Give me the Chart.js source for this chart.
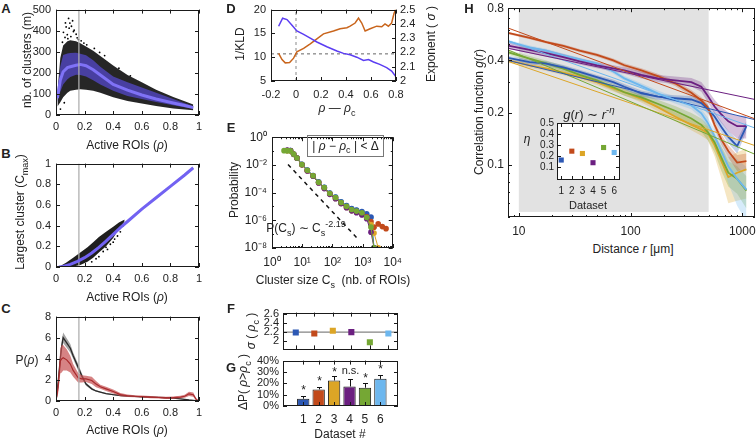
<!DOCTYPE html>
<html>
<head>
<meta charset="utf-8">
<script src="https://cdn.jsdelivr.net/npm/chart.js@4.4.0/dist/chart.umd.min.js"></script>
<style>
  html, body { margin: 0; padding: 0; width: 756px; height: 440px; overflow: hidden; background: #fff; }
  body { position: relative; font-family: 'Liberation Sans', Arial, sans-serif; color: #222; }
  canvas { position: absolute; }
  .lbl { position: absolute; white-space: nowrap; line-height: 1; font-size: 12px; }
  .lbl sub, .lbl sup { font-size: 75%; }
  .ebox { position: absolute; border: 1px solid #777; box-sizing: border-box; text-align: center; font-size: 12px; line-height: 20px; white-space: pre; }
  .ebox sub { font-size: 75%; line-height: 0; }
</style>
</head>
<body>
<script>
// ---- shared
const datasetNo = [1, 2, 3, 4, 5, 6];
const dsColors = ['#2c58b4', '#c24a1b', '#dca526', '#6b1f80', '#75a734', '#6db7ee'];
const rhoCrit = 0.16;

// ---- A: nb. of clusters vs active ROIs
const rhoA     = [0.01,0.03,0.05,0.08,0.1,0.14,0.17,0.21,0.26,0.31,0.4,0.5,0.6,0.7,0.82,0.9,0.96];
const cloudHiA = [110,270,330,350,355,350,340,325,305,280,235,190,155,120,85,65,50];
const cloudLoA = [40,60,84,105,115,120,122,120,115,105,84,66,55,43,31,26,23];
const bandHiA  = [100,230,285,292,294,295,290,283,260,229,183,155,130,105,76,56,41];
const bandLoA  = [60,110,145,170,180,191,190,183,165,145,115,90,76,62,46,37,31];
const meanA    = [80,165,205,225,229,236,240,234,215,190,145,118,95,76,57,45,35];
const strayXA  = [0.045,0.052,0.063,0.071,0.079,0.088,0.097,0.104,0.116,0.127,0.148,0.176,0.215,0.34,0.44,0.52,0.031,0.058,0.083,0.122,0.195,0.268,0.305,0.092,0.141,0.066,0.108,0.157];
const strayYA  = [345,392,368,418,381,458,436,372,447,402,366,352,333,282,222,186,28,58,362,396,341,316,297,412,383,437,421,358];

// ---- B: largest cluster
const rhoB      = [0.02,0.05,0.1,0.15,0.2,0.25,0.3,0.35,0.4,0.45,0.5,0.6,0.7,0.8,0.9,0.96];
const cmaxB     = [0,0.005,0.025,0.055,0.09,0.135,0.19,0.25,0.315,0.38,0.44,0.56,0.67,0.78,0.89,0.96];
const rhoCloudB = [0.03,0.07,0.12,0.17,0.22,0.26,0.3,0.35,0.4,0.44,0.48];
const cloudHiB  = [0.01,0.04,0.09,0.14,0.19,0.24,0.29,0.34,0.39,0.43,0.46];
const cloudLoB  = [0,0,0.005,0.02,0.05,0.09,0.14,0.2,0.28,0.37,0.44];
const strayXB   = [0.3,0.33,0.35,0.36,0.38,0.4,0.41,0.43,0.45,0.47,0.25,0.28];
const strayYB   = [0.1,0.15,0.19,0.17,0.22,0.24,0.27,0.3,0.34,0.4,0.05,0.08];

// ---- C: P(rho)
const rhoC   = [0,0.015,0.03,0.04,0.05,0.075,0.1,0.12,0.155,0.18,0.21,0.25,0.28,0.31,0.35,0.4,0.45,0.5,0.55,0.6,0.66,0.72,0.77,0.82,0.87,0.9,0.93,0.96,0.98,1];
const pBlack = [0,1.8,4.0,5.2,6.0,5.5,5.0,4.3,3.2,2.4,1.6,1.15,0.95,0.84,0.7,0.6,0.52,0.47,0.43,0.4,0.37,0.34,0.31,0.27,0.2,0.15,0.1,0.06,0.03,0];
const eBlack = [0,0.3,0.4,0.5,0.5,0.45,0.4,0.3,0.3,0.25,0.15,0.1,0.08,0.06,0.05,0.05,0.05,0.05,0.04,0.04,0.04,0.04,0.04,0.04,0.03,0.03,0.03,0.02,0.02,0];
const pRed   = [0,1.3,3.8,4.0,4.1,3.9,3.5,2.9,2.2,2.1,2.1,1.95,1.6,1.35,1.15,0.9,0.6,0.5,0.45,0.42,0.37,0.33,0.3,0.32,0.37,0.45,0.68,0.6,0.15,0];
const eRed   = [0,0.6,1.2,1.3,1.2,1.0,0.8,0.6,0.45,0.35,0.3,0.35,0.3,0.2,0.2,0.2,0.15,0.12,0.1,0.1,0.1,0.1,0.1,0.1,0.12,0.15,0.2,0.2,0.1,0];

// ---- D: 1/KLD and exponent vs rho - rho_c
const dRho   = [-0.139,-0.107,-0.072,-0.032,0.007,0.061,0.114,0.167,0.247,0.327,0.38,0.433,0.486,0.54,0.58,0.62,0.67,0.725,0.765,0.8];
const invKLD = [16.5,18.2,17.9,16.7,15.5,14.8,14.0,13.2,12.2,11.3,10.8,10.5,10.0,9.3,9.5,9.0,8.5,7.8,7.1,5.9];
const oRho   = [-0.139,-0.112,-0.086,-0.051,-0.019,0.007,0.061,0.114,0.167,0.22,0.3,0.353,0.407,0.433,0.473,0.5,0.526,0.553,0.593,0.646,0.686,0.712,0.739,0.765,0.784,0.797];
const expSig = [2.194,2.15,2.127,2.13,2.16,2.205,2.228,2.26,2.295,2.33,2.35,2.366,2.373,2.384,2.406,2.44,2.406,2.35,2.366,2.384,2.38,2.4,2.384,2.406,2.473,2.5];
const sigmaRef = 2.19;

// ---- E: cluster size distributions
const sizeE = [2.5,3.2,4.1,5.2,6.7,9.8,14.8,23,35,54,82,127,194,294,435,630,950,1370,1900,2400,3300,4500,6000];
const probE = [
  [null,0.11,0.108,0.062,0.033,0.0112,0.0043,0.0017,5.9e-4,2.4e-4,9.3e-5,4.8e-5,2.2e-5,1.15e-5,7.0e-6,5.4e-6,4.3e-6,3.0e-6,1.7e-6,1.05e-8,null,null,null],
  [null,0.11,0.106,0.06,0.031,0.0104,0.0039,0.0016,5.4e-4,2.2e-4,8.4e-5,4.2e-5,1.85e-5,9.5e-6,5.6e-6,4.2e-6,3.0e-6,1.8e-6,8e-7,3.2e-7,5.5e-7,3.5e-7,2.5e-7],
  [null,0.105,0.104,0.058,0.03,0.0102,0.0038,0.00155,5.2e-4,2.05e-4,7.8e-5,3.8e-5,1.65e-5,8.5e-6,5.0e-6,3.8e-6,2.7e-6,1.5e-6,5e-7,1.2e-7,1.05e-8,null,null],
  [null,0.12,0.11,0.058,0.03,0.0101,0.0037,0.0015,5.0e-4,1.95e-4,7.5e-5,3.6e-5,1.6e-5,8.2e-6,4.8e-6,3.5e-6,2.4e-6,1.3e-6,1.4e-7,1.05e-8,null,null,null],
  [0.107,0.107,0.105,0.06,0.0316,0.0107,0.0041,0.00166,5.6e-4,2.3e-4,8.7e-5,4.4e-5,1.95e-5,1.02e-5,6.0e-6,4.6e-6,3.5e-6,1.6e-6,3.2e-7,1.05e-8,null,null,null],
  [null,0.108,0.107,0.061,0.032,0.011,0.0042,0.0017,5.8e-4,2.4e-4,9.2e-5,4.7e-5,2.15e-5,1.12e-5,6.8e-6,5.3e-6,4.0e-6,2.6e-6,1.5e-6,1.05e-8,null,null,null]
];
const fitXE = [3.4, 630];
const fitYE = [0.0107, 5.8e-8];
const decadesE = [1, 10, 100, 1000, 10000];

// ---- F: sigma at rho_c ; G: delta P
const sigmaF = [2.18, 2.16, 2.22, 2.19, 1.96, 2.16];
const dP     = [0.064, 0.146, 0.225, 0.172, 0.161, 0.239];
const dPerr  = [0.085, 0.166, 0.26, 0.24, 0.201, 0.272];
const sigY   = [0.16, 0.24, 0.318, 0.312, 0.269, 0.347];
const sigTxt = ['*', '*', '*', 'n.s.', '*', '*'];

// ---- H: correlation function g(r)
const hX = [8,12.5,17.6,25,35,50,70,88,125,175,250,350,430,490,565,650,750,900,1090];
const gH = [
  [0.414,0.391,0.383,0.365,0.343,0.32,0.30,0.282,0.258,0.247,0.242,0.238,0.227,0.21,0.19,0.165,0.145,0.128,0.167],
  [0.576,0.54,0.51,0.485,0.456,0.43,0.40,0.375,0.35,0.325,0.295,0.26,0.235,0.215,0.17,0.14,0.12,0.103,0.105],
  [0.40,0.375,0.36,0.34,0.321,0.30,0.276,0.262,0.24,0.215,0.19,0.17,0.16,0.153,0.13,0.105,0.085,0.09,0.094],
  [0.487,0.46,0.44,0.418,0.395,0.375,0.36,0.35,0.33,0.315,0.307,0.30,0.282,0.25,0.217,0.195,0.178,0.167,0.167],
  [0.446,0.409,0.385,0.359,0.33,0.307,0.28,0.262,0.245,0.225,0.205,0.185,0.17,0.155,0.135,0.11,0.09,0.083,0.071],
  [0.515,0.476,0.455,0.427,0.405,0.383,0.345,0.315,0.285,0.258,0.236,0.22,0.198,0.175,0.146,0.12,0.098,0.083,0.072]
];
const gErrH = [
  [0.012,0.012,0.012,0.011,0.01,0.01,0.01,0.01,0.01,0.01,0.01,0.011,0.012,0.012,0.012,0.012,0.012,0.012,0.012],
  [0.01,0.01,0.01,0.01,0.01,0.01,0.01,0.01,0.01,0.01,0.01,0.01,0.01,0.01,0.01,0.01,0.01,0.011,0.011],
  [0.012,0.012,0.012,0.012,0.011,0.011,0.011,0.011,0.011,0.011,0.011,0.012,0.013,0.014,0.018,0.022,0.025,0.028,0.03],
  [0.02,0.02,0.02,0.018,0.016,0.015,0.015,0.015,0.015,0.015,0.016,0.017,0.018,0.02,0.02,0.02,0.022,0.025,0.025],
  [0.015,0.015,0.015,0.014,0.013,0.012,0.012,0.012,0.012,0.012,0.013,0.014,0.015,0.016,0.017,0.018,0.015,0.015,0.015],
  [0.012,0.012,0.012,0.011,0.01,0.01,0.01,0.01,0.01,0.01,0.01,0.011,0.012,0.013,0.015,0.017,0.02,0.025,0.025]
];
const fitXH = [8, 1300];
const fitYH = [[0.40,0.182],[0.615,0.184],[0.395,0.129],[0.47,0.238],[0.46,0.115],[0.52,0.163]];
const fitRange = [10, 500];
const etaH = [0.166, 0.246, 0.225, 0.142, 0.279, 0.234];

// ---------------------------------------------------------------
Chart.defaults.font.family = "'Liberation Sans', Arial, sans-serif";
Chart.defaults.font.size = 11;
Chart.defaults.color = '#222';
Chart.defaults.plugins.legend.display = false;
Chart.defaults.plugins.tooltip.enabled = false;
Chart.defaults.animation = false;
Chart.defaults.elements.point.radius = 0;
Chart.defaults.elements.line.tension = 0;

// box around the plot + inward ticks, matlab style
Chart.register({
  id: 'frame',
  afterDatasetsDraw(chart) {
    const {ctx, chartArea: a, scales} = chart;
    const ys = Object.values(scales).filter(s => !s.isHorizontal());
    ctx.save();
    ctx.strokeStyle = '#1a1a1a';
    ctx.lineWidth = 1;
    for (const s of Object.values(scales)) {
      s.ticks.forEach((t, i) => {
        const p = Math.round(s.getPixelForTick(i)) + 0.5;
        const len = t.label === '' ? 2 : 4;
        ctx.beginPath();
        if (s.isHorizontal()) {
          ctx.moveTo(p, a.bottom); ctx.lineTo(p, a.bottom - len);
          ctx.moveTo(p, a.top); ctx.lineTo(p, a.top + len);
        } else {
          const left = s.position !== 'right', both = ys.length === 1;
          if (left || both) { ctx.moveTo(a.left, p); ctx.lineTo(a.left + len, p); }
          if (!left || both) { ctx.moveTo(a.right, p); ctx.lineTo(a.right - len, p); }
        }
        ctx.stroke();
      });
    }
    ctx.strokeRect(Math.round(a.left) + 0.5, Math.round(a.top) + 0.5, Math.round(a.width) - 1, Math.round(a.height) - 1);
    ctx.restore();
  }
});

const xy = (xs, ys) => xs.map((x, i) => ({x, y: ys[i]}));
const rgba = (hex, a) => {
  const n = parseInt(hex.slice(1), 16);
  return `rgba(${n >> 16},${(n >> 8) & 255},${n & 255},${a})`;
};
const line = (xs, ys, color, width, extra) =>
  Object.assign({data: xy(xs, ys), borderColor: color, borderWidth: width, fill: false}, extra);
const dots = (xs, ys, color, r) =>
  ({data: xy(xs, ys), showLine: false, pointRadius: r, pointBackgroundColor: color, pointBorderWidth: 0});
function band(xs, hi, lo, color) {
  return [
    {data: xy(xs, hi), borderWidth: 0, borderColor: 'transparent', fill: false},
    {data: xy(xs, lo), borderWidth: 0, borderColor: 'transparent', fill: '-1', backgroundColor: color}
  ];
}
// first in the list is drawn at the back
function layered(list) { list.forEach((d, i) => d.order = list.length - i); return list; }

function ax(type, min, max, vals, fmt, o = {}) {
  return {
    type, min, max,
    position: o.position,
    grid: {display: false, drawTicks: false},
    border: {display: false},
    afterBuildTicks: s => { s.ticks = vals.map(v => ({value: v})); },
    ticks: {autoSkip: false, maxRotation: 0, minRotation: 0, padding: o.pad ?? 5,
            display: !o.hide, font: {size: o.size || 11}, callback: fmt}
  };
}

function panel(area, pad, cfg) {
  const [x, y, w, h] = area, [pl, pt, pr, pb] = pad;
  const cv = document.createElement('canvas');
  cv.width = w + pl + pr;
  cv.height = h + pt + pb;
  cv.style.left = (x - pl) + 'px';
  cv.style.top = (y - pt) + 'px';
  document.body.appendChild(cv);
  const scales = cfg.options.scales;
  const hasRight = Object.values(scales).some(s => s.position === 'right');
  for (const s of Object.values(scales)) {
    s.afterFit = sc => {
      if (sc.isHorizontal()) sc.height = pb;
      else sc.width = s.position === 'right' ? pr : pl;
    };
  }
  cfg.options.responsive = false;
  cfg.options.maintainAspectRatio = false;
  cfg.options.layout = {padding: {left: 0, top: pt, right: hasRight ? 0 : pr, bottom: 0}};
  return new Chart(cv, cfg);
}

function label(html, x, y, o = {}) {
  const d = document.createElement('div');
  d.className = 'lbl';
  d.innerHTML = html;
  d.style.left = x + 'px';
  d.style.top = y + 'px';
  if (o.size) d.style.fontSize = o.size + 'px';
  if (o.bold) d.style.fontWeight = 'bold';
  d.style.transform = 'translate(-50%,-50%)' + (o.rot ? ' rotate(-90deg)' : '');
  document.body.appendChild(d);
}

const num = v => String(v);
const tenths = [0, 0.2, 0.4, 0.6, 0.8, 1];

// ---- A
panel([56, 6, 143, 109], [40, 8, 12, 24], {
  type: 'line',
  data: {datasets: layered([
    ...band(rhoA, cloudHiA, cloudLoA, 'rgba(0,0,0,0.85)'),
    dots(strayXA, strayYA, '#000', 0.9),
    ...band(rhoA, bandHiA, bandLoA, 'rgba(82,70,196,0.78)'),
    line(rhoA, meanA, '#7f72f6', 3),
    line([rhoCrit, rhoCrit], [0, 500], 'rgba(175,175,175,0.85)', 1.5)
  ])},
  options: {scales: {
    x: ax('linear', 0, 1, tenths, num),
    y: ax('linear', 0, 500, [0, 100, 200, 300, 400, 500], num)
  }}
});

// ---- B
panel([56, 160, 143, 107], [40, 8, 12, 24], {
  type: 'line',
  data: {datasets: layered([
    ...band(rhoCloudB, cloudHiB, cloudLoB, 'rgba(0,0,0,0.88)'),
    dots(strayXB, strayYB, '#000', 0.9),
    line([rhoCrit, rhoCrit], [0, 1], 'rgba(175,175,175,0.85)', 1.5),
    line(rhoB, cmaxB, '#7262f2', 3)
  ])},
  options: {scales: {
    x: ax('linear', 0, 1, tenths, num),
    y: ax('linear', 0, 1, tenths, num)
  }}
});

// ---- C
panel([56, 313, 143, 88], [40, 8, 12, 24], {
  type: 'line',
  data: {datasets: layered([
    ...band(rhoC, pBlack.map((v, i) => v + eBlack[i]), pBlack.map((v, i) => v - eBlack[i]), 'rgba(90,90,90,0.55)'),
    line(rhoC, pBlack, '#2a2a2a', 1.3),
    ...band(rhoC, pRed.map((v, i) => v + eRed[i]), pRed.map((v, i) => v - eRed[i]), 'rgba(196,78,80,0.7)'),
    line(rhoC, pRed, '#a82a2c', 1.2),
    line([rhoCrit, rhoCrit], [0, 8], 'rgba(175,175,175,0.85)', 1.5)
  ])},
  options: {scales: {
    x: ax('linear', 0, 1, tenths, num),
    y: ax('linear', 0, 8, [0, 2, 4, 6, 8], num)
  }}
});

// ---- D
panel([271, 6, 125, 75], [40, 8, 34, 24], {
  type: 'line',
  data: {datasets: layered([
    line([0, 0], [5, 20], '#8a8a8a', 1, {borderDash: [3, 3], yAxisID: 'y'}),
    line([-0.2, 0.8], [sigmaRef, sigmaRef], '#666', 1, {borderDash: [3, 3], yAxisID: 'y2'}),
    line(oRho, expSig, '#c9651c', 1.5, {yAxisID: 'y2'}),
    line(dRho, invKLD, '#5b3df2', 1.5, {yAxisID: 'y'})
  ])},
  options: {scales: {
    x: ax('linear', -0.2, 0.8, [-0.2, 0, 0.2, 0.4, 0.6, 0.8], num, {pad: 7}),
    y: ax('linear', 5, 20, [5, 10, 15, 20], num),
    y2: ax('linear', 2, 2.5, [2, 2.1, 2.2, 2.3, 2.4, 2.5], num, {position: 'right', pad: 4})
  }}
});

// ---- E
const SUP = {'-': '⁻', '0': '⁰', '1': '¹', '2': '²', '3': '³', '4': '⁴', '5': '⁵', '6': '⁶', '7': '⁷', '8': '⁸', '9': '⁹'};
const pow10 = v => '10' + String(Math.round(Math.log10(v))).split('').map(c => SUP[c]).join('');
const minorE = [];
decadesE.slice(0, -1).forEach(d => [1, 2, 3, 4, 5, 6, 7, 8, 9].forEach(m => minorE.push(d * m)));
minorE.push(10000);
const yDecE = [1e-8, 1e-7, 1e-6, 1e-5, 1e-4, 1e-3, 1e-2, 1e-1, 1];
const yLabE = [1e-8, 1e-6, 1e-4, 1e-2, 1];
const eOrder = [5, 0, 1, 2, 3, 4];
panel([272, 133, 125, 115], [40, 8, 12, 26], {
  type: 'line',
  data: {datasets: layered([
    line(fitXE, fitYE, '#111', 1.5, {borderDash: [4, 4]}),
    ...eOrder.map(k => line(sizeE, probE[k], dsColors[k], 1,
      {pointRadius: 2.8, pointBackgroundColor: dsColors[k], pointBorderWidth: 0}))
  ])},
  options: {scales: {
    x: ax('logarithmic', 1, 10000, minorE, v => decadesE.includes(v) ? pow10(v) : '', {pad: 7, size: 12}),
    y: ax('logarithmic', 1e-8, 1, yDecE, v => yLabE.includes(v) ? pow10(v) : '', {size: 12})
  }}
});

// ---- F
panel([283, 310, 115, 42], [40, 8, 12, 8], {
  type: 'line',
  data: {datasets: layered([
    line([0.31, 6.52], [sigmaRef, sigmaRef], '#666', 1),
    {data: xy(datasetNo, sigmaF), showLine: false, pointStyle: 'rect', pointRadius: 4.3,
     pointBackgroundColor: dsColors, pointBorderWidth: 0}
  ])},
  options: {scales: {
    x: ax('linear', 0.31, 6.52, datasetNo, num, {hide: true}),
    y: ax('linear', 1.8, 2.63, [2, 2.2, 2.4, 2.6], num, {pad: 4})
  }}
});

// ---- G
const gMarks = {
  id: 'gMarks',
  afterDatasetsDraw(chart) {
    const {ctx, scales: {x, y}} = chart;
    ctx.save();
    ctx.strokeStyle = '#111';
    ctx.lineWidth = 1;
    ctx.fillStyle = '#222';
    ctx.textAlign = 'center';
    ctx.textBaseline = 'middle';
    datasetNo.forEach((n, i) => {
      const px = Math.round(x.getPixelForValue(n)) + 0.5;
      const y0 = y.getPixelForValue(dP[i]), y1 = Math.round(y.getPixelForValue(dPerr[i])) + 0.5;
      ctx.beginPath();
      ctx.moveTo(px, y0); ctx.lineTo(px, y1);
      ctx.moveTo(px - 2.5, y1); ctx.lineTo(px + 2.5, y1);
      ctx.stroke();
      const star = sigTxt[i] === '*';
      ctx.font = (star ? 12 : 11) + "px 'Liberation Sans', Arial, sans-serif";
      ctx.fillText(sigTxt[i], px, y.getPixelForValue(sigY[i]) + (star ? 3 : 0));
    });
    ctx.restore();
  }
};
panel([283, 358, 115, 48], [40, 8, 12, 20], {
  type: 'bar',
  data: {datasets: [{
    data: xy(datasetNo, dP), backgroundColor: dsColors, borderColor: '#1a1a1a', borderWidth: 1,
    borderSkipped: false, barPercentage: 1, categoryPercentage: 0.8
  }]},
  options: {scales: {
    x: ax('linear', 0.31, 6.52, datasetNo, num, {pad: 6, size: 12}),
    y: ax('linear', 0, 0.4, [0, 0.1, 0.2, 0.3, 0.4], v => Math.round(v * 100) + '%', {pad: 4})
  }},
  plugins: [gMarks]
});

// ---- H
const fitShade = {
  id: 'fitShade',
  beforeDatasetsDraw(chart) {
    const {ctx, chartArea: a, scales: {x, y}} = chart;
    const x0 = x.getPixelForValue(fitRange[0]), x1 = x.getPixelForValue(fitRange[1]);
    ctx.save();
    ctx.fillStyle = '#e2e2e2';
    ctx.fillRect(x0, a.top, x1 - x0, y.getPixelForValue(0.0535) - a.top);
    ctx.restore();
  }
};
const hTicksX = [8, 9, 10, 20, 30, 40, 50, 60, 70, 80, 90, 100, 200, 300, 400, 500, 600, 700, 800, 900, 1000];
const hLabX = [10, 100, 1000];
const hTicksY = [0.05, 0.06, 0.07, 0.08, 0.09, 0.1, 0.2, 0.3, 0.4, 0.5, 0.6, 0.7, 0.8];
const hLabY = [0.1, 0.2, 0.4, 0.8];
const hOrder = [2, 4, 0, 5, 1, 3];
panel([508, 7, 247, 210], [40, 10, 20, 24], {
  type: 'line',
  data: {datasets: layered([
    ...hOrder.flatMap(k => band(hX, gH[k].map((v, i) => v + gErrH[k][i]), gH[k].map((v, i) => v - gErrH[k][i]), rgba(dsColors[k], 0.28))),
    ...hOrder.map(k => line(hX, gH[k], dsColors[k], 1.8)),
    ...hOrder.map(k => line(fitXH, fitYH[k], dsColors[k], 1))
  ])},
  options: {scales: {
    x: ax('logarithmic', 8, 1300, hTicksX, v => hLabX.includes(v) ? String(v) : '', {pad: 7, size: 12}),
    y: ax('logarithmic', 0.05, 0.8, hTicksY, v => hLabY.includes(v) ? String(v) : '', {pad: 4, size: 12})
  }},
  plugins: [fitShade]
});

// ---- H inset: fitted exponents
const whiteArea = {
  id: 'whiteArea',
  beforeDatasetsDraw(chart) {
    const {ctx, chartArea: a} = chart;
    ctx.save();
    ctx.fillStyle = '#fff';
    ctx.fillRect(a.left, a.top, a.width, a.height);
    ctx.restore();
  }
};
panel([557, 122, 63, 58], [26, 8, 8, 16], {
  type: 'line',
  data: {datasets: [
    {data: xy(datasetNo, etaH), showLine: false, pointStyle: 'rect', pointRadius: 3.6,
     pointBackgroundColor: dsColors, pointBorderWidth: 0}
  ]},
  options: {scales: {
    x: ax('linear', 0.6, 6.55, datasetNo, num, {pad: 5, size: 10}),
    y: ax('linear', -0.014, 0.5, [0.1, 0.2, 0.3, 0.4, 0.5], num, {pad: 3, size: 10})
  }},
  plugins: [whiteArea]
});

// ---- text
const rho = '<i>ρ</i>';
[['A', 6, 8], ['B', 6, 153], ['C', 6, 308], ['D', 231, 8], ['E', 231, 127],
 ['F', 231, 308], ['G', 231, 367], ['H', 469, 8]].forEach(([t, x, y]) => label(t, x, y, {bold: true, size: 13}));

label('nb. of clusters (m)', 27, 60, {rot: true});
label(`Active ROIs (${rho})`, 127, 145);
label('Largest cluster (C<sub>max</sub>)', 22, 212, {rot: true});
label(`Active ROIs (${rho})`, 127, 297);
label(`P(${rho})`, 27, 360);
label(`Active ROIs (${rho})`, 127, 430);
label('1/KLD', 240, 44, {rot: true});
label('Exponent ( <i>σ</i> )', 431, 44, {rot: true});
label(`${rho} — ${rho}<sub>c</sub>`, 337, 110);
label('Probability', 234, 190, {rot: true});
label('Cluster size C<sub>s</sub> &nbsp;(nb. of ROIs)', 333, 282);
label('P(C<sub>s</sub>) ∼ C<sub>s</sub><sup>-2.19</sup>', 306, 229);
label(`<i>σ</i> ( ${rho}<sub>c</sub> )`, 253, 331, {rot: true});
label(`ΔP( ${rho}&gt;${rho}<sub>c</sub> )`, 245, 382, {rot: true});
label('Dataset #', 340, 434);
label('Correlation function <i>g</i>(<i>r</i>)', 479, 112, {rot: true});
label('Distance <i>r</i> [μm]', 633, 249);
label('<i>g</i>(<i>r</i>) ∼ <i>r</i><sup>-<i>η</i></sup>', 589, 113, {size: 13});
label('<i>η</i>', 527, 139);
label('Dataset', 588, 205, {size: 11});

const eb = document.createElement('div');
eb.className = 'ebox';
eb.style.left = '307px'; eb.style.top = '135px'; eb.style.width = '77px'; eb.style.height = '22px';
eb.innerHTML = `| ${rho} − ${rho}<sub>c</sub> | &lt; Δ`;
document.body.appendChild(eb);
</script>
</body>
</html>
